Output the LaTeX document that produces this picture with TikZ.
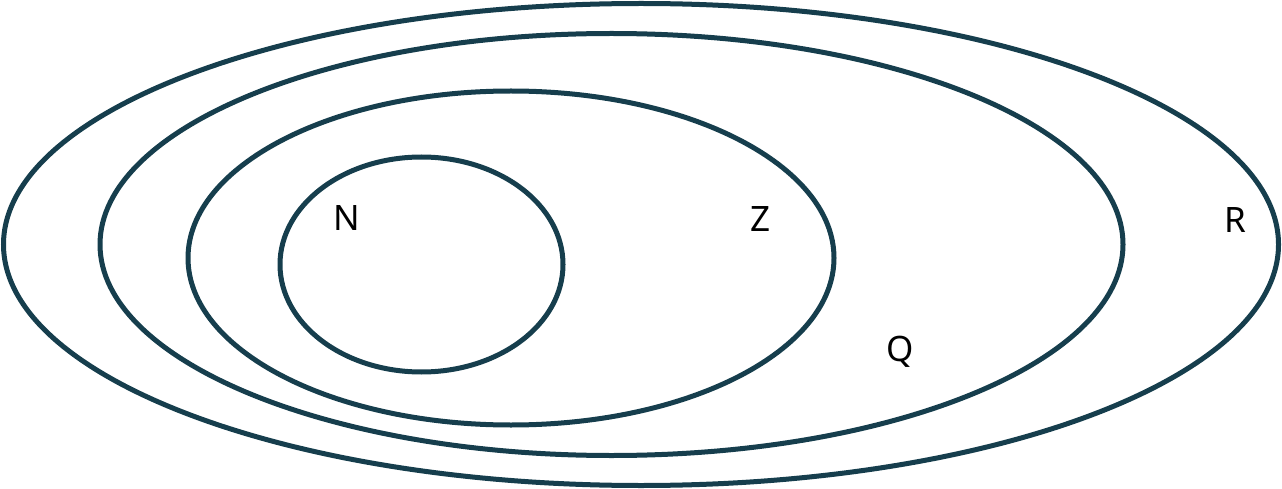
\documentclass[tikz,border=0pt]{standalone}
\usepackage{fontspec}
\setmainfont{Noto Sans}
\definecolor{setline}{RGB}{22,62,77}
\begin{document}
\begin{tikzpicture}[x=1pt,y=-1pt,
  setellipse/.style={draw=setline,line width=5pt},
  setlabel/.style={font=\fontsize{35}{40}\selectfont,text=black,inner sep=0pt}]
\useasboundingbox (0,0) rectangle (1282,489);
\draw[setellipse] (641,244.5) ellipse [x radius=637.5, y radius=241];
\draw[setellipse] (611.5,244.5) ellipse [x radius=511.5, y radius=211];
\draw[setellipse] (511,258) ellipse [x radius=323, y radius=167];
\draw[setellipse] (421.5,264.5) ellipse [x radius=141.5, y radius=107.5];
\node[setlabel] (lN) at (347,218) {N};
\node[setlabel] (lZ) at (760,219) {Z};
\node[setlabel] (lQ) at (900,352) {Q};
\node[setlabel] (lR) at (1235,220) {R};
\end{tikzpicture}
\end{document}
